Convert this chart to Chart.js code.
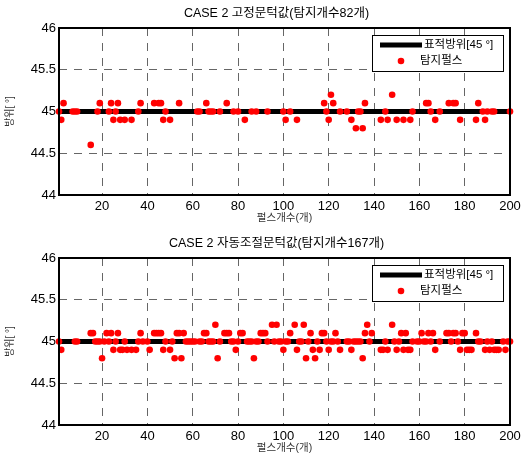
<!DOCTYPE html>
<html><head><meta charset="utf-8">
<script src="https://cdn.jsdelivr.net/npm/chart.js@4"></script>
<style>body{margin:0;background:#fff} canvas{display:block}</style>
</head><body>
<canvas id="c1" width="531" height="230"></canvas>
<canvas id="c2" width="531" height="230"></canvas>
<script>
// ---- data ----
const xTicks = [20, 40, 60, 80, 100, 120, 140, 160, 180, 200];
const yTicks = [44, 44.5, 45, 45.5, 46];
const targetAzimuth = 45;
const targetRange = [1, 200];
const topTitle = 'CASE 2 고정문턱값(탐지개수82개)';
const botTitle = 'CASE 2 자동조절문턱값(탐지개수167개)';
const xTitle = '펄스개수(개)';
const yTitle = '방위[ °]';
const legendLine = '표적방위[45 °]';
const legendDots = '탐지펄스';

const topPulse = [1,2,3,7,8,9,15,18,19,23,24,25,26,27,28,30,33,36,37,43,45,46,47,48,50,54,62,63,66,67,68,69,72,75,78,80,83,86,88,93,100,101,103,106,118,119,120,121,122,125,128,130,132,133,134,135,136,143,145,146,148,150,153,156,157,163,164,165,167,169,173,175,176,178,185,186,188,189,190,192,193,200];
const topAzimuth = [45,44.9,45.1,45,45,45,44.6,45,45.1,45,45.1,44.9,45,45.1,44.9,44.9,44.9,45,45.1,45.1,45.1,45.1,44.9,45,44.9,45.1,45,45,45.1,45,45,45,45,45.1,45,45,44.9,45,45,45,45,44.9,45,44.9,45.1,45,44.9,45.2,45.1,45,45,44.9,44.8,45,45,44.8,45.1,44.9,45,44.9,45.2,44.9,44.9,44.9,45,45.1,45.1,45,44.9,45,45.1,45.1,45.1,44.9,44.9,45.1,45,44.9,45,45,45,45];

const botPulse = [
  1,2,8,9,15,16,17,18,19,20,
  21,22,23,24,25,26,27,28,29,30,
  31,33,35,36,37,38,40,41,43,44,
  45,46,47,48,50,51,52,53,54,55,
  56,57,58,59,60,61,63,64,65,
  66,67,68,69,70,71,72,74,75,76,
  77,78,79,80,81,82,84,85,86,87,
  88,89,90,91,92,93,95,96,97,98,
  99,100,101,102,103,105,106,107,108,109,
  110,111,112,113,114,115,116,117,118,119,
  120,121,122,123,124,125,128,129,130,131,
  132,133,134,135,136,137,138,139,143,144,
  145,146,148,149,150,151,152,153,154,155,
  156,157,159,160,161,162,163,164,165,166,
  167,169,172,173,174,175,176,177,178,179,
  180,181,182,183,185,186,187,189,190,191,
  192,193,194,195,197,198,199,200];
const botAzimuth = [
  45,44.9,45,45,45.1,45.1,45,45,45,44.8,
  45,45.1,45,45.1,44.9,45,45.1,44.9,44.9,45,
  44.9,44.9,44.9,45,45.1,45,45,44.9,45.1,45.1,
  45.1,45.1,44.9,45,44.9,45,44.8,45.1,45.1,44.8,
  45.1,45,45,45,45,45,45,45,45.1,
  45.1,45,45,45,45.2,44.8,45,45.1,45.1,45.1,
  45,45,44.9,45,45.1,45.1,45,45,45,44.8,
  45,45,45.1,45.1,45.1,45,45.2,45,45.2,45,
  45,44.9,45,45,45.1,45.2,44.9,45,45,45.2,
  44.8,45,45.1,44.9,44.8,45,44.9,45.1,45.1,45,
  44.9,45,45,45.1,45,44.9,45,45,44.9,45,
  45,45,45,44.8,45.1,45.2,45,45.1,44.9,44.9,
  45,44.9,45.2,45,44.9,45,45.1,44.9,45.1,44.9,
  44.9,45,45,45,45.1,45,45,45.1,45,45.1,
  44.9,45,45.1,45.1,45,45.1,45.1,45,44.9,45.1,
  45.1,44.9,44.9,44.9,45.1,45,45,44.9,45,44.9,
  45,44.9,44.9,44.9,45,44.9,45,45];

// ---- drawing ----
const FONT = "'Liberation Sans', Arial, 'Noto Sans CJK KR', sans-serif";

const framePlugin = {
  id: 'frame',
  afterDatasetsDraw(chart, args, opts) {
    const a = chart.chartArea, c = chart.ctx;
    c.save();
    c.strokeStyle = '#000'; c.lineWidth = 2;
    c.strokeRect(a.left, a.top, a.right - a.left, a.bottom - a.top);
    // title (centred over the axes, as in the original)
    c.fillStyle = '#000';
    c.font = "12.5px " + FONT;
    c.textAlign = 'center'; c.textBaseline = 'middle';
    c.fillText(opts.text, (a.left + a.right) / 2 - 8, a.top - 14);
    // legend box
    const bx = a.right - 138, by = a.top + 7, bw = 131, bh = 36;
    c.fillStyle = '#fff';
    c.fillRect(bx, by, bw, bh);
    c.lineWidth = 1; c.strokeStyle = '#000';
    c.strokeRect(bx + 0.5, by + 0.5, bw, bh);
    c.lineWidth = 5;
    c.beginPath(); c.moveTo(bx + 8, by + 10); c.lineTo(bx + 50, by + 10); c.stroke();
    c.fillStyle = '#ff0000';
    c.beginPath(); c.arc(bx + 29, by + 26, 3.3, 0, Math.PI * 2); c.fill();
    c.fillStyle = '#000';
    c.font = "11.5px " + FONT;
    c.textBaseline = 'middle'; c.textAlign = 'left';
    c.fillText(legendLine, bx + 52, by + 10);
    c.fillText(legendDots, bx + 48, by + 26);
    c.restore();
  }
};

function makeChart(id, title, px, py) {
  const pts = px.map((x, i) => ({ x: x, y: py[i] }));
  return new Chart(document.getElementById(id), {
    type: 'scatter',
    data: {
      datasets: [
        { label: legendDots, data: pts, pointRadius: 3.3, pointHoverRadius: 3.3,
          backgroundColor: '#ff0000', borderWidth: 0, order: 0, clip: 6 },
        { label: legendLine, data: targetRange.map(x => ({ x: x, y: targetAzimuth })),
          showLine: true, borderColor: '#000', borderWidth: 5, pointRadius: 0, order: 1 }
      ]
    },
    options: {
      responsive: false, animation: false, devicePixelRatio: 1,
      layout: { padding: { top: 28, right: 21, left: 0, bottom: 0 } },
      plugins: {
        legend: { display: false }, tooltip: { enabled: false },
        title: { display: false },
        frame: { text: title }
      },
      scales: {
        x: {
          type: 'linear', min: 1, max: 200,
          afterBuildTicks: s => { s.ticks = xTicks.map(v => ({ value: v })); },
          afterFit: s => { s.height = 35; },
          ticks: { color: '#000', font: { family: FONT, size: 13 }, padding: 4, maxRotation: 0, autoSkip: false,
            callback: v => String(v) },
          grid: { drawTicks: false, color: c => (c.tick && c.tick.value === 200) ? 'rgba(0,0,0,0)' : '#666', lineWidth: 1 },
          border: { display: false, dash: [8, 7] },
          title: { display: true, text: xTitle, color: '#333', font: { family: FONT, size: 10.5 }, padding: { top: 0, bottom: 6 } }
        },
        y: {
          type: 'linear', min: 44, max: 46,
          afterBuildTicks: s => { s.ticks = yTicks.map(v => ({ value: v })); },
          afterFit: s => { s.width = 59; },
          ticks: { color: '#000', font: { family: FONT, size: 13 }, padding: 3, callback: v => String(v) },
          grid: { drawTicks: false, color: c => (c.tick && (c.tick.value === 44 || c.tick.value === 46)) ? 'rgba(0,0,0,0)' : '#666', lineWidth: 1 },
          border: { display: false, dash: [8, 7] },
          title: { display: true, text: yTitle, color: '#333', font: { family: FONT, size: 10 }, padding: { top: 4, bottom: 0 } }
        }
      }
    },
    plugins: [framePlugin]
  });
}

makeChart('c1', topTitle, topPulse, topAzimuth);
makeChart('c2', botTitle, botPulse, botAzimuth);
</script>
</body></html>
